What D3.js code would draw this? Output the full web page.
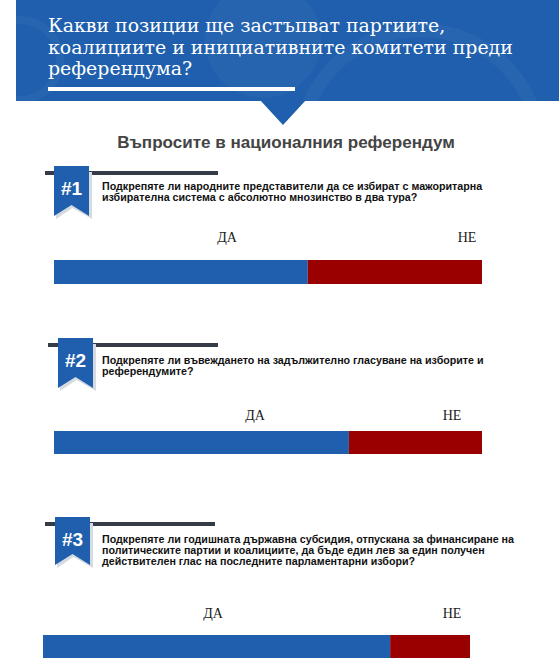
<!DOCTYPE html>
<html><head><meta charset="utf-8">
<script src="https://cdn.jsdelivr.net/npm/d3@7/dist/d3.min.js"></script>
<style>html,body{margin:0;padding:0;background:#fff;overflow:hidden}</style>
</head><body>
<svg id="c" width="559" height="671"></svg>
<script>
// ---- data ----
const titleLines = ["Какви позиции ще застъпват партиите,", "коалициите и инициативните комитети преди", "референдума?"];
const subtitle = "Въпросите в националния референдум";
const questionNumbers = ["#1", "#2", "#3"];
const questionTexts = [
  ["Подкрепяте ли народните представители да се избират с мажоритарна", "избирателна система с абсолютно мнозинство в два тура?"],
  ["Подкрепяте ли въвеждането на задължително гласуване на изборите и", "референдумите?"],
  ["Подкрепяте ли годишната държавна субсидия, отпускана за финансиране на", "политическите партии и коалициите, да бъде един лев за един получен", "действителен глас на последните парламентарни избори?"]
];
const yesValues = [59.3, 68.9, 81.3];
const noValues = [40.7, 31.1, 18.7];
const answerLabels = ["ДА", "НЕ"];

// ---- layout (positions only) ----
const layout = [
  {lineY:173, lineX0:45, lineX1:218, rx:54, rTop:166, rBot:216, rNotch:205, numY:195, textY:190, lab:242, daX:227, neX:467, barX0:54, barX1:482, barY:260, barH:24},
  {lineY:345, lineX0:48, lineX1:218, rx:58, rTop:338, rBot:388, rNotch:377, numY:367, textY:364, lab:420, daX:255, neX:452, barX0:54, barX1:482, barY:431, barH:23},
  {lineY:524, lineX0:45, lineX1:215, rx:55, rTop:517, rBot:565, rNotch:554, numY:546, textY:543, lab:618, daX:213, neX:452, barX0:43, barX1:470, barY:635, barH:23}
];
const BLUE = "#1f5fad", RED = "#990000", DARK = "#353c48";

const svg = d3.select("#c");

// header
const hdr = svg.append("g");
hdr.append("rect").attr("x",16).attr("y",0).attr("width",543).attr("height",101).attr("fill",BLUE);
const clip = svg.append("defs").append("clipPath").attr("id","hc");
clip.append("rect").attr("x",16).attr("y",0).attr("width",543).attr("height",101);
const deco = hdr.append("g").attr("clip-path","url(#hc)");
deco.append("circle").attr("cx",263).attr("cy",40).attr("r",58).attr("fill","rgba(255,255,255,0.035)");
deco.append("circle").attr("cx",420).attr("cy",150).attr("r",120).attr("fill","none").attr("stroke","rgba(255,255,255,0.04)").attr("stroke-width",14);
deco.append("circle").attr("cx",20).attr("cy",60).attr("r",40).attr("fill","none").attr("stroke","rgba(255,255,255,0.04)").attr("stroke-width",8);
hdr.append("path").attr("d",d3.line()([[260,100],[306,100],[283,125]])).attr("fill",BLUE);

const tt = hdr.selectAll("text.t").data(titleLines).join("text")
  .attr("class","t").attr("x",48).attr("y",(d,i)=>32+i*21.5)
  .attr("fill","#fff").style("font-family","'DejaVu Serif','Liberation Serif',serif").style("font-size","21px")
  .text(d=>d);
const w2 = tt.nodes()[1].getComputedTextLength();
const fs = Math.min(22, 21*465/w2);
tt.style("font-size",fs.toFixed(2)+"px");
hdr.append("rect").attr("x",48).attr("y",87).attr("width",247).attr("height",4).attr("fill","#fff");

const st = svg.append("text").attr("x",286).attr("y",148).attr("text-anchor","middle")
  .attr("fill","#444").style("font-family","'Liberation Sans',Arial,sans-serif").style("font-weight","bold").style("font-size","17px")
  .text(subtitle);
const sw = st.node().getComputedTextLength();
st.style("font-size",(17*338/sw).toFixed(2)+"px");

// questions
questionTexts.forEach((lines,i)=>{
  const L = layout[i];
  const g = svg.append("g");
  g.append("rect").attr("x",L.lineX0).attr("y",L.lineY-2).attr("width",L.lineX1-L.lineX0).attr("height",4).attr("fill",DARK);
  const rw = 35;
  g.append("path").attr("d",d3.line()([[L.rx+2,L.rTop+6],[L.rx+rw+3,L.rTop+6],[L.rx+rw+3,L.rBot+3],[L.rx+rw/2+1,L.rNotch+3],[L.rx+2,L.rBot+3]]))
    .attr("fill","#d6dbe2");
  g.append("path").attr("d",d3.line()([[L.rx,L.rTop],[L.rx+rw,L.rTop],[L.rx+rw,L.rBot],[L.rx+rw/2,L.rNotch],[L.rx,L.rBot]]))
    .attr("fill",BLUE);
  g.append("text").attr("x",L.rx+rw/2).attr("y",L.numY).attr("text-anchor","middle").attr("fill","#fff")
    .style("font-family","'Liberation Sans',Arial,sans-serif").style("font-weight","bold").style("font-size","19px")
    .text(questionNumbers[i]);
  g.selectAll("text.q").data(lines).join("text").attr("class","q")
    .attr("x",102).attr("y",(d,j)=>L.textY+j*11)
    .attr("fill","#111").style("font-family","'Liberation Sans',Arial,sans-serif").style("font-weight","bold").style("font-size","10.7px")
    .text(d=>d);
  g.selectAll("text.a").data(answerLabels).join("text").attr("class","a")
    .attr("x",(d,j)=>j===0?L.daX:L.neX).attr("y",L.lab).attr("text-anchor","middle")
    .attr("fill","#222").style("font-family","'Liberation Serif','DejaVu Serif',serif").style("font-size","14px")
    .text(d=>d);
  const x = d3.scaleLinear().domain([0, yesValues[i]+noValues[i]]).range([L.barX0, L.barX1]);
  const segs = [{v0:0, v1:yesValues[i], c:BLUE},{v0:yesValues[i], v1:yesValues[i]+noValues[i], c:RED}];
  g.selectAll("rect.b").data(segs).join("rect").attr("class","b")
    .attr("x",d=>x(d.v0)).attr("width",d=>x(d.v1)-x(d.v0))
    .attr("y",L.barY).attr("height",L.barH).attr("fill",d=>d.c);
});
</script>
</body></html>
